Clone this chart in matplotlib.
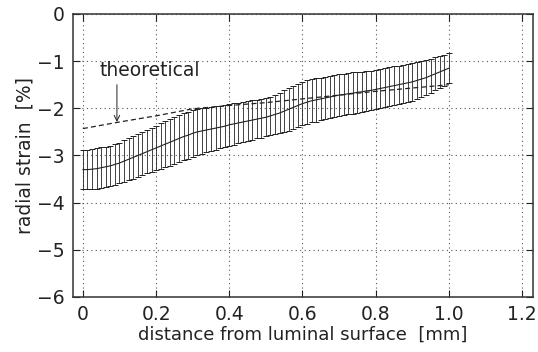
"""Radial strain vs. distance from luminal surface, measured (mean +/- SD)
against the theoretical profile. Saves out.png."""

import matplotlib

matplotlib.use("Agg")
import matplotlib.pyplot as plt
from matplotlib.ticker import FuncFormatter

# measured depth positions [mm]
DEPTH = [
    0.0, 0.0125, 0.025, 0.0375, 0.05, 0.0625, 0.075, 0.0875, 0.1, 0.1125,
    0.125, 0.1375, 0.15, 0.1625, 0.175, 0.1875, 0.2, 0.2125, 0.225, 0.2375,
    0.25, 0.2625, 0.275, 0.2875, 0.3, 0.3125, 0.325, 0.3375, 0.35, 0.3625,
    0.375, 0.3875, 0.4, 0.4125, 0.425, 0.4375, 0.45, 0.4625, 0.475, 0.4875,
    0.5, 0.5125, 0.525, 0.5375, 0.55, 0.5625, 0.575, 0.5875, 0.6, 0.6125,
    0.625, 0.6375, 0.65, 0.6625, 0.675, 0.6875, 0.7, 0.7125, 0.725, 0.7375,
    0.75, 0.7625, 0.775, 0.7875, 0.8, 0.8125, 0.825, 0.8375, 0.85, 0.8625,
    0.875, 0.8875, 0.9, 0.9125, 0.925, 0.9375, 0.95, 0.9625, 0.975, 0.9875,
    1.0,
]
# mean radial strain [%]
STRAIN_MEAN = [
    -3.30, -3.30, -3.29, -3.28, -3.26, -3.24, -3.22, -3.19, -3.16, -3.12,
    -3.08, -3.04, -3.00, -2.96, -2.92, -2.88, -2.84, -2.80, -2.76, -2.72,
    -2.68, -2.64, -2.60, -2.57, -2.53, -2.50, -2.48, -2.46, -2.44, -2.42,
    -2.40, -2.38, -2.35, -2.33, -2.31, -2.29, -2.27, -2.25, -2.23, -2.21,
    -2.19, -2.16, -2.13, -2.10, -2.06, -2.02, -1.98, -1.94, -1.90, -1.87,
    -1.84, -1.82, -1.80, -1.78, -1.76, -1.74, -1.72, -1.71, -1.69, -1.68,
    -1.66, -1.65, -1.63, -1.62, -1.60, -1.58, -1.56, -1.54, -1.52, -1.50,
    -1.48, -1.46, -1.44, -1.41, -1.38, -1.35, -1.31, -1.27, -1.23, -1.19,
    -1.15,
]
# standard deviation [%]
STRAIN_SD = [
    0.42, 0.42, 0.42, 0.43, 0.43, 0.43, 0.43, 0.43, 0.43, 0.44,
    0.44, 0.45, 0.45, 0.46, 0.46, 0.47, 0.47, 0.48, 0.49, 0.50,
    0.50, 0.50, 0.50, 0.50, 0.50, 0.49, 0.48, 0.47, 0.46, 0.46,
    0.45, 0.45, 0.44, 0.44, 0.43, 0.43, 0.42, 0.42, 0.41, 0.41,
    0.40, 0.41, 0.42, 0.43, 0.45, 0.46, 0.46, 0.46, 0.46, 0.46,
    0.46, 0.46, 0.45, 0.45, 0.45, 0.45, 0.45, 0.44, 0.44, 0.44,
    0.43, 0.43, 0.43, 0.42, 0.42, 0.42, 0.41, 0.41, 0.41, 0.40,
    0.40, 0.40, 0.40, 0.39, 0.38, 0.37, 0.36, 0.35, 0.34, 0.33,
    0.32,
]

# theoretical profile
THEORY_DEPTH = [0.0, 0.1, 0.2, 0.3, 0.4, 0.5, 0.6, 0.7, 0.8, 0.9, 1.0]
THEORY_STRAIN = [-2.43, -2.29, -2.16, -2.01, -1.94, -1.88, -1.80, -1.72, -1.64, -1.57, -1.50]

X_TICKS = [0, 0.2, 0.4, 0.6, 0.8, 1.0, 1.2]
Y_TICKS = [0, -1, -2, -3, -4, -5, -6]

INK = "#222222"
plt.rcParams["font.family"] = ["DejaVu Sans"]
plt.rcParams["text.color"] = INK

fig = plt.figure(figsize=(5.38, 3.52), dpi=100)
ax = fig.add_axes([0.1357, 0.1563, 0.855, 0.804])

ax.errorbar(
    DEPTH, STRAIN_MEAN, yerr=STRAIN_SD,
    color=INK, lw=0.8, elinewidth=0.6, capsize=2.2, capthick=0.7,
)
ax.plot(THEORY_DEPTH, THEORY_STRAIN, color=INK, lw=0.9, ls=(0, (4, 2.5)))

ax.text(0.046, -1.2, "theoretical", fontsize=13.5, va="center", ha="left", color=INK)
ax.annotate(
    "", xy=(0.093, -2.29), xytext=(0.093, -1.5),
    arrowprops=dict(arrowstyle="->", lw=0.7, color=INK, shrinkA=0, shrinkB=0),
)

ax.set_xlim(-0.027, 1.23)
ax.set_ylim(-6, 0)
ax.set_xticks(X_TICKS)
ax.set_yticks(Y_TICKS)
ax.xaxis.set_major_formatter(FuncFormatter(lambda v, _: "0" if v == 0 else f"{v:.1f}"))

ax.grid(True, ls=(0, (1, 3)), color="#555555", lw=0.8)
ax.tick_params(direction="in", top=True, right=True, length=5, width=0.8,
               labelsize=13.5, colors=INK, pad=6)
for s in ax.spines.values():
    s.set_color("#333333")
    s.set_linewidth(1.1)

ax.set_xlabel("distance from luminal surface  [mm]", fontsize=13, color=INK, labelpad=1)
ax.set_ylabel("radial strain  [%]", fontsize=13.5, color=INK, labelpad=2)

fig.savefig("out.png", dpi=100)
